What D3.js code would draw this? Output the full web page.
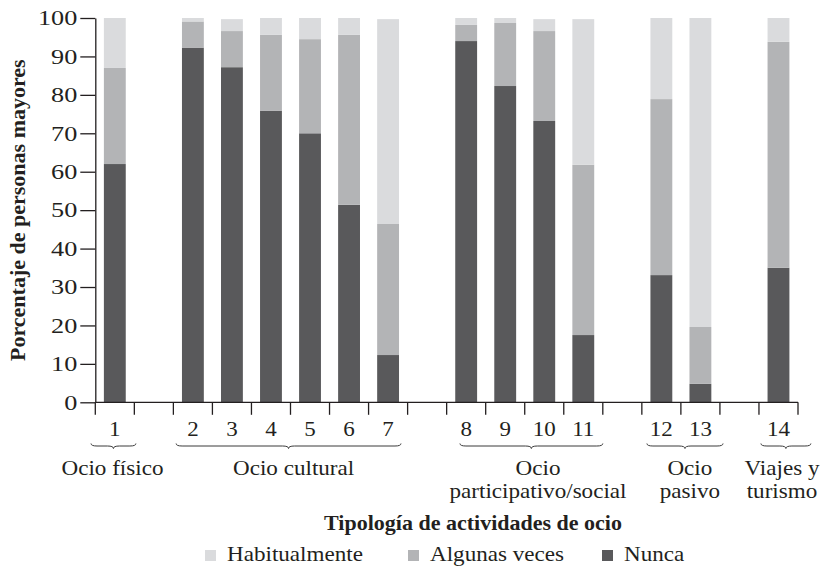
<!DOCTYPE html>
<html>
<head>
<meta charset="utf-8">
<script src="https://cdn.jsdelivr.net/npm/d3@7/dist/d3.min.js"></script>
<style>
  body { margin: 0; background: #fff; }
  svg { display: block; }
</style>
</head>
<body>
<svg id="chart" width="820" height="566"></svg>
<script>
// Leisure activities 1–14, share of older people by frequency (%)
const categories = ["1","2","3","4","5","6","7","8","9","10","11","12","13","14"];
const nunca         = [62.0, 92.3, 87.2, 75.9, 70.0, 51.4, 12.3, 94.0, 82.3, 73.2, 17.5, 33.1,  4.8, 35.0];
const algunasVeces  = [25.0,  6.8,  9.4, 19.7, 24.5, 44.2, 34.1,  4.2, 16.4, 23.4, 44.3, 45.8, 14.8, 58.8];
const habitualmente = [13.0,  0.9,  3.1,  4.4,  5.5,  4.4, 53.3,  1.8,  1.3,  3.1, 37.9, 21.1, 80.4,  6.2];

// Activity groups (labels may span two lines)
const groupLabels  = [["Ocio físico"], ["Ocio cultural"], ["Ocio", "participativo/social"], ["Ocio", "pasivo"], ["Viajes y", "turismo"]];
const groupMembers = [["1"], ["2","3","4","5","6","7"], ["8","9","10","11"], ["12","13"], ["14"]];

const yTicks = [0, 10, 20, 30, 40, 50, 60, 70, 80, 90, 100];
const seriesNames = ["Habitualmente", "Algunas veces", "Nunca"];
const seriesKeys  = ["habitualmente", "algunas", "nunca"];
const seriesColors = { nunca: "#59595b", algunas: "#b3b4b6", habitualmente: "#dadbdd" };

const ink = "#231f20";
const serif = "'Liberation Serif', 'Times New Roman', serif";

const svg = d3.select("#chart");
const plotLeft = 95.3, plotRight = 798, plotTop = 18, plotBottom = 402.3;

// Slot order: groups separated by one empty slot
const slots = [];
groupMembers.forEach((g, i) => {
  if (i > 0) slots.push("gap" + i);
  g.forEach(c => slots.push(c));
});

const slotScale = d3.scaleBand().domain(slots).range([plotLeft, plotRight]).padding(0);
const x = d3.scaleBand().domain(slots).range([plotLeft, plotRight]).paddingInner(0.44).paddingOuter(0.22);
const y = d3.scaleLinear().domain([0, 100]).range([plotBottom, plotTop]);
const step = slotScale.step();

// Stacked data
const rows = categories.map((c, i) => ({
  cat: c, nunca: nunca[i], algunas: algunasVeces[i], habitualmente: habitualmente[i]
}));
const stack = d3.stack().keys(["nunca", "algunas", "habitualmente"]);
const layers = stack(rows);

svg.append("g").selectAll("g")
  .data(layers).join("g")
  .attr("fill", d => seriesColors[d.key])
  .selectAll("rect")
  .data(d => d).join("rect")
  .attr("x", d => x(d.data.cat))
  .attr("width", x.bandwidth())
  .attr("y", d => y(d[1]))
  .attr("height", d => y(d[0]) - y(d[1]));

// Horizontally widen text to approximate the book face's proportions
function widen(sel, k) {
  sel.each(function () {
    const w = this.getComputedTextLength();
    d3.select(this).attr("textLength", w * k).attr("lengthAdjust", "spacingAndGlyphs");
  });
}

// Y axis
const yAxis = svg.append("g")
  .attr("transform", `translate(${plotLeft},0)`)
  .call(d3.axisLeft(y).tickValues(yTicks).tickSize(15).tickSizeOuter(0).tickPadding(3));
yAxis.select(".domain").attr("stroke", ink).attr("stroke-width", 1.3);
yAxis.selectAll(".tick line").attr("stroke", ink).attr("stroke-width", 1.3);
yAxis.selectAll(".tick text")
  .attr("fill", ink).attr("font-family", serif).attr("font-size", 21).call(widen, 1.25);

// X axis: baseline with ticks at slot boundaries
const xAxis = svg.append("g");
xAxis.append("line")
  .attr("x1", plotLeft).attr("x2", plotRight).attr("y1", plotBottom).attr("y2", plotBottom)
  .attr("stroke", ink).attr("stroke-width", 1.3);
const boundaries = slots.map(s => slotScale(s)).concat([plotRight]);
xAxis.selectAll("line.tick").data(boundaries).join("line")
  .attr("class", "tick")
  .attr("x1", d => d).attr("x2", d => d)
  .attr("y1", plotBottom).attr("y2", plotBottom + 12.5)
  .attr("stroke", ink).attr("stroke-width", 1.3);
xAxis.selectAll("text").data(categories).join("text")
  .attr("x", d => slotScale(d) + step / 2)
  .attr("y", 436)
  .attr("text-anchor", "middle")
  .attr("fill", ink).attr("font-family", serif).attr("font-size", 20)
  .text(d => d)
  .call(widen, 1.15);

// Group braces and labels; braces and labels are nudged in slot widths
const braceNudge = [[-0.11, 0.04], [0.07, -0.17], [0.34, 0.0], [0.13, 0.08], [0.05, 0.33]];
const labelNudge = [-0.06, 0.08, 0.34, 0.23, 0.09];
function bracePath(x0, x1, yb) {
  const xm = (x0 + x1) / 2, h = 2.5, c = 6;
  return `M${x0},${yb - h} Q${x0},${yb} ${x0 + c},${yb} L${xm - c},${yb} Q${xm},${yb} ${xm},${yb + h}` +
         ` Q${xm},${yb} ${xm + c},${yb} L${x1 - c},${yb} Q${x1},${yb} ${x1},${yb - h}`;
}
const groups = svg.append("g");
groupMembers.forEach((g, i) => {
  const first = slotScale(g[0]);
  const last = slotScale(g[g.length - 1]) + step;
  const x0 = first + braceNudge[i][0] * step, x1 = last + braceNudge[i][1] * step;
  groups.append("path")
    .attr("d", bracePath(x0, x1, 446))
    .attr("fill", "none").attr("stroke", "#3a3a3a").attr("stroke-width", 1);
  const cx = (first + last) / 2 + labelNudge[i] * step;
  groupLabels[i].forEach((line, j) => {
    groups.append("text")
      .attr("x", cx)
      .attr("y", 475 + j * 23)
      .attr("text-anchor", "middle")
      .attr("fill", ink).attr("font-family", serif).attr("font-size", 21)
      .text(line)
      .call(widen, 1.1);
  });
});

// Axis titles
svg.append("text")
  .attr("x", 473).attr("y", 530)
  .attr("text-anchor", "middle")
  .attr("fill", ink).attr("font-family", serif).attr("font-size", 22).attr("font-weight", "bold")
  .text("Tipología de actividades de ocio");

svg.append("text")
  .attr("transform", `translate(25,${(plotTop + plotBottom) / 2}) rotate(-90)`)
  .attr("text-anchor", "middle")
  .attr("fill", ink).attr("font-family", serif).attr("font-size", 22).attr("font-weight", "bold")
  .text("Porcentaje de personas mayores");

// Legend
const legendX = [205, 408, 602];
const legend = svg.append("g");
seriesNames.forEach((name, i) => {
  const item = legend.append("g").attr("transform", `translate(${legendX[i]},0)`);
  item.append("rect")
    .attr("x", 0).attr("y", 550).attr("width", 11).attr("height", 11)
    .attr("fill", seriesColors[seriesKeys[i]]);
  item.append("text")
    .attr("x", 22).attr("y", 561)
    .attr("fill", ink).attr("font-family", serif).attr("font-size", 21)
    .text(name)
    .call(widen, 1.1);
});
</script>
</body>
</html>
